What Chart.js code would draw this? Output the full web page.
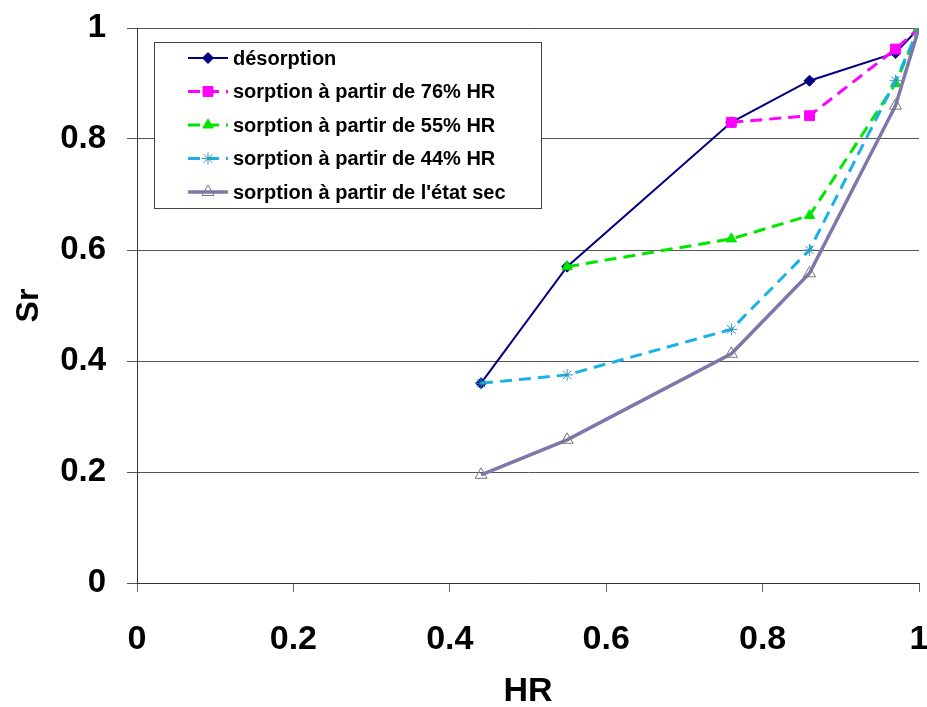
<!DOCTYPE html>
<html>
<head>
<meta charset="utf-8">
<script src="https://cdn.jsdelivr.net/npm/chart.js@4.4.1/dist/chart.umd.min.js"></script>
<style>
  html, body { margin: 0; padding: 0; background: #fff; }
  #wrap { width: 927px; height: 707px; }
</style>
</head>
<body>
<div id="wrap"><canvas id="chart" width="927" height="707"></canvas></div>
<script>
// humidité relative (axe x)
const hr = [0.44, 0.55, 0.76, 0.86, 0.97, 1];

// degré de saturation Sr pour chaque série (null = pas de mesure)
const desorption = [0.36, 0.57, 0.83, 0.905, 0.955, 1];
const sorption76 = [null, null, 0.83, 0.842, 0.962, 1];
const sorption55 = [null, 0.57, 0.62, 0.662, 0.9, 1];
const sorption44 = [0.36, 0.375, 0.457, 0.6, 0.905, 1];
const sorptionSec = [0.195, 0.258, 0.413, 0.558, 0.86, 1];

const seriesLabels = [
  'désorption',
  'sorption à partir de 76% HR',
  'sorption à partir de 55% HR',
  'sorption à partir de 44% HR',
  "sorption à partir de l'état sec"
];

const tickLabels = ['0', '0.2', '0.4', '0.6', '0.8', '1'];

function points(values) {
  return hr.map((x, i) => ({ x: x, y: values[i] })).filter(p => p.y !== null);
}

const FONT = '"Liberation Sans", Arial, sans-serif';

// légende encadrée dans la zone de tracé, comme dans Excel
const legendBox = {
  id: 'legendBox',
  afterDraw(chart) {
    const ctx = chart.ctx;
    const area = chart.chartArea;
    const x0 = area.left + 17, y0 = area.top + 14, w = 387, h = 166;
    ctx.save();
    ctx.fillStyle = '#fff';
    ctx.fillRect(x0, y0, w, h);
    ctx.strokeStyle = '#444';
    ctx.lineWidth = 1;
    ctx.strokeRect(x0 + 0.5, y0 + 0.5, w, h);
    chart.data.datasets.forEach((ds, i) => {
      const y = y0 + 16 + i * 33.5;
      ctx.setLineDash(ds.borderDash || []);
      ctx.strokeStyle = ds.borderColor;
      ctx.lineWidth = ds.borderWidth;
      ctx.beginPath();
      ctx.moveTo(x0 + 34, y);
      ctx.lineTo(x0 + 74, y);
      ctx.stroke();
      ctx.setLineDash([]);
      ctx.fillStyle = ds.pointBackgroundColor;
      ctx.strokeStyle = ds.pointBorderColor;
      ctx.lineWidth = ds.pointBorderWidth;
      Chart.helpers.drawPoint(ctx, {
        pointStyle: ds.pointStyle,
        radius: ds.pointRadius,
        borderWidth: ds.pointBorderWidth,
        rotation: 0
      }, x0 + 54, y);
      ctx.fillStyle = '#000';
      ctx.font = 'bold 20px ' + FONT;
      ctx.textBaseline = 'middle';
      ctx.textAlign = 'left';
      ctx.fillText(ds.label, x0 + 79, y + 1);
    });
    ctx.restore();
  }
};

function makeDataset(i, values, color, opts) {
  return Object.assign({
    label: seriesLabels[i],
    data: points(values),
    borderColor: color,
    backgroundColor: color,
    pointBackgroundColor: color,
    pointBorderColor: color,
    pointBorderWidth: 1,
    fill: false,
    tension: 0,
    order: 4 - i
  }, opts);
}

const ctx = document.getElementById('chart').getContext('2d');
new Chart(ctx, {
  type: 'line',
  data: {
    datasets: [
      makeDataset(0, desorption, '#000080', {
        borderWidth: 2, pointStyle: 'rectRot', pointRadius: 5.5
      }),
      makeDataset(1, sorption76, '#FF00FF', {
        borderWidth: 3, borderDash: [12, 7], pointStyle: 'rect', pointRadius: 7
      }),
      makeDataset(2, sorption55, '#00E600', {
        borderWidth: 3, borderDash: [12, 7], pointStyle: 'triangle', pointRadius: 6
      }),
      makeDataset(3, sorption44, '#1AB2E6', {
        borderWidth: 3, borderDash: [12, 7], pointStyle: 'star', pointRadius: 6,
        pointBorderColor: '#3399BB', pointBorderWidth: 1
      }),
      makeDataset(4, sorptionSec, '#7E78AA', {
        borderWidth: 3.5, pointStyle: 'triangle', pointRadius: 7,
        pointBackgroundColor: 'rgba(255,255,255,0)', pointBorderColor: '#777777', pointBorderWidth: 1
      })
    ]
  },
  options: {
    responsive: false,
    animation: false,
    devicePixelRatio: 1,
    layout: { padding: { top: 28, right: 7, left: 0, bottom: 0 } },
    plugins: {
      legend: { display: false },
      tooltip: { enabled: false }
    },
    scales: {
      x: {
        type: 'linear',
        min: 0,
        max: 1,
        afterFit(scale) {
          scale.height = 124;
          scale.paddingLeft = 0;
          scale.paddingRight = 0;
        },
        border: { color: '#333', width: 1 },
        grid: { drawOnChartArea: false, drawTicks: true, tickLength: 9, color: '#666' },
        ticks: {
          stepSize: 0.2,
          autoSkip: false,
          maxRotation: 0,
          padding: 27,
          color: '#000',
          font: { family: FONT, size: 34, weight: 'bold' },
          callback: (v) => tickLabels[Math.round(v * 5)]
        },
        title: {
          display: true,
          text: 'HR',
          color: '#000',
          padding: 0,
          font: { family: FONT, size: 34, weight: 'bold', lineHeight: 0.9 }
        }
      },
      y: {
        type: 'linear',
        min: 0,
        max: 1,
        afterFit(scale) {
          scale.width = 137;
          scale.paddingTop = 0;
          scale.paddingBottom = 0;
        },
        border: { color: '#333', width: 1 },
        grid: { drawOnChartArea: true, drawTicks: true, tickLength: 10, color: '#555' },
        ticks: {
          stepSize: 0.2,
          padding: 21,
          color: '#000',
          font: { family: FONT, size: 33, weight: 'bold' },
          callback: (v) => tickLabels[Math.round(v * 5)]
        },
        title: {
          display: true,
          text: 'Sr',
          color: '#000',
          padding: { top: 10, bottom: 0 },
          font: { family: FONT, size: 32, weight: 'bold', lineHeight: 1.2 }
        }
      }
    }
  },
  plugins: [legendBox]
});
</script>
</body>
</html>
